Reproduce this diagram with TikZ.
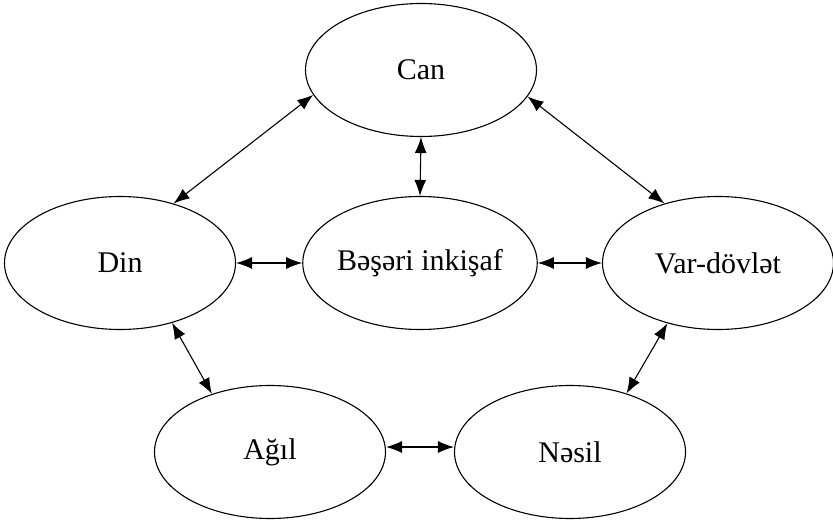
\documentclass[tikz,border=0pt]{standalone}
\usepackage{fontspec}
\setmainfont{Liberation Serif}
\usetikzlibrary{shapes.geometric,arrows.meta}
\begin{document}
\begin{tikzpicture}[x=1pt,y=-1pt,
  oval/.style={ellipse,draw,line width=1.1pt,minimum width=231pt,minimum height=133pt,inner sep=0pt,font=\fontsize{30}{34}\selectfont},
  link/.style={line width=1.1pt,{Latex[length=16pt,width=12pt]}-{Latex[length=16pt,width=12pt]}}]
\useasboundingbox (0,0) rectangle (833,521);
\node[oval] (can) at (421,70) {Can};
\node[oval] (din) at (120,263) {Din};
\node[oval] (bes) at (420,263) {Bəşəri inkişaf};
\node[oval] (var) at (718,263) {Var-dövlət};
\node[oval] (agil) at (270,452) {Ağıl};
\node[oval] (nesil) at (570,452) {Nəsil};
\draw[link] (can.193) -- (din.48);
\draw[link] (can.346) -- (var.132);
\draw[link] (can.south) -- (bes.north);
\draw[link] (din.east) -- (bes.west);
\draw[link] (bes.east) -- (var.west);
\draw[link] (din.311) -- (agil.135);
\draw[link] (var.230) -- (nesil.46);
\draw[link] ([yshift=5pt]agil.east) -- ([yshift=5pt]nesil.west);
\end{tikzpicture}
\end{document}
